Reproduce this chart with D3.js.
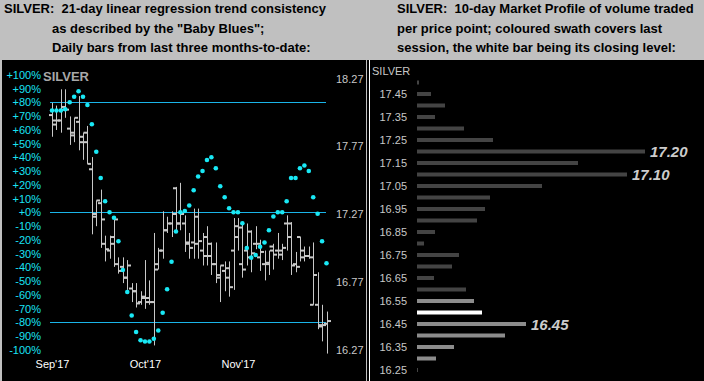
<!DOCTYPE html>
<html><head><meta charset="utf-8">
<script src="https://cdn.jsdelivr.net/npm/d3@7"></script>
<style>body{margin:0;background:#c0c0c0;} svg{display:block;}</style>
</head><body><svg id="c" width="704" height="381"></svg>
<script>
// ---------- data ----------
const leftTitle = ["SILVER:  21-day linear regression trend consistency", "as described by the \"Baby Blues\";", "Daily bars from last three months-to-date:"];
const rightTitle = ["SILVER:  10-day Market Profile of volume traded", "per price point; coloured swath covers last", "session, the white bar being its closing level:"];

const barOpen  = [18.00,17.93,17.96,18.06,17.90,17.85,17.95,17.80,17.80,17.60,17.25,17.35,17.05,17.00,17.10,16.90,16.88,16.80,16.72,16.70,16.62,16.65,16.65,16.62,16.90,17.00,17.15,17.20,17.46,17.20,17.20,17.05,17.06,17.05,17.00,16.96,16.96,16.90,16.80,16.85,16.80,17.00,17.10,16.90,17.00,16.95,17.05,16.95,16.90,16.90,17.00,17.00,17.00,17.20,17.20,16.90,17.10,16.95,16.96,16.60,16.60,16.45,16.46];
const barHigh  = [18.09,18.07,18.19,18.19,17.99,17.98,18.14,17.87,17.92,17.69,17.37,17.45,17.11,17.11,17.23,16.95,16.95,16.93,16.76,16.76,16.70,16.93,16.78,17.13,17.02,17.29,17.25,17.29,17.47,17.50,17.26,17.13,17.31,17.31,17.13,17.18,17.06,17.06,16.89,16.92,16.92,17.24,17.24,17.21,17.20,17.15,17.18,17.08,17.00,17.00,17.05,17.13,17.05,17.26,17.21,16.99,17.10,17.03,17.03,17.06,16.84,16.60,16.55];
const barLow   = [17.84,17.89,17.87,17.98,17.78,17.80,17.74,17.67,17.64,17.12,17.18,17.02,16.92,16.94,16.88,16.83,16.76,16.71,16.62,16.58,16.60,16.57,16.60,16.30,16.86,16.94,17.13,17.10,17.14,17.15,16.99,16.94,16.94,16.94,16.89,16.89,16.82,16.76,16.62,16.70,16.66,16.71,17.00,16.80,16.89,16.84,17.01,16.85,16.78,16.82,16.86,16.94,16.93,17.00,16.82,16.84,16.92,16.92,16.94,16.60,16.42,16.33,16.24];
const barClose = [17.96,17.96,18.04,18.04,17.87,17.98,17.84,17.87,17.64,17.27,17.37,17.23,17.01,17.05,17.23,16.85,16.80,16.89,16.70,16.61,16.66,16.62,16.62,16.86,17.00,17.15,17.20,17.27,17.20,17.27,17.06,17.02,17.25,17.07,17.10,17.05,16.90,16.82,16.89,16.87,16.73,17.18,17.17,16.86,17.14,16.98,17.05,16.99,16.91,17.03,16.97,16.97,17.02,17.10,16.89,16.88,17.00,16.96,16.95,16.82,16.44,16.45,16.48];
const babyBlues = [74,74,74,75,80,84,88,84,78,64,44,25,8,0,-4,-21,-42,-58,-75,-87,-93,-94,-94,-92,-86,-73,-56,-36,-14,0,1,5,16,26,30,38,40,32,19,11,3,0,0,-8,-26,-33,-31,-25,-22,-13,-3,0,0,8,25,25,32,34,30,11,-1,-21,-37];

const pctTicks = [100,90,80,70,60,50,40,30,20,10,0,-10,-20,-30,-40,-50,-60,-70,-80,-90,-100];
const refLevels = [80,0,-80];
const priceTicks = [18.27,17.77,17.27,16.77,16.27];
const monthTickIdx = [0,21,42];
const monthLabels = ["Sep'17","Oct'17","Nov'17"];

const profilePrices = [17.50,17.45,17.40,17.35,17.30,17.25,17.20,17.15,17.10,17.05,17.00,16.95,16.90,16.85,16.80,16.75,16.70,16.65,16.60,16.55,16.50,16.45,16.40,16.35,16.30,16.25];
const profileVolume = [2,14,28,18,47,76,228,161,210,125,73,68,60,18,7,42,35,17,49,57,65,109,88,37,19,1];
const sessionLow = 16.30, sessionHigh = 16.55, sessionClose = 16.50;
const profileTicks = [17.45,17.35,17.25,17.15,17.05,16.95,16.85,16.75,16.65,16.55,16.45,16.35,16.25];
const profileCallouts = [17.20,17.10,16.45];

// ---------- drawing ----------
const svg = d3.select("#c");
const FONT = "'Liberation Sans', Arial, sans-serif";

// header / panels
svg.append("rect").attr("x",0).attr("y",0).attr("width",704).attr("height",381).attr("fill","#c0c0c0");
svg.append("rect").attr("x",2).attr("y",60).attr("width",364).attr("height",321).attr("fill","#000");
svg.append("rect").attr("x",367).attr("y",60).attr("width",337).attr("height",321).attr("fill","#000");
svg.append("line").attr("x1",369.5).attr("x2",369.5).attr("y1",60).attr("y2",381).attr("stroke","#fff").attr("stroke-width",1);

const titleY = [13,32.5,51.5];
leftTitle.forEach((t,i)=>{
  svg.append("text").attr("x", i===0?4:52).attr("y",titleY[i]).text(t)
    .attr("font-family",FONT).attr("font-weight","bold").attr("font-size",13).attr("fill","#000").style("white-space","pre");
});
rightTitle.forEach((t,i)=>{
  svg.append("text").attr("x",397).attr("y",titleY[i]).text(t)
    .attr("font-family",FONT).attr("font-weight","bold").attr("font-size",13).attr("fill","#000").style("white-space","pre");
});

// left chart scales
const n = barClose.length;
const x = d3.scaleLinear().domain([0,n-1]).range([52,326.5]);
const yPct = d3.scaleLinear().domain([-100,100]).range([349.8,74.8]);
const yPrice = d3.scaleLinear().domain([16.27,18.27]).range([349.5,78.5]);

// percent axis (left)
const pctAxis = d3.axisLeft(yPct).tickValues(pctTicks).tickSize(0).tickPadding(0)
  .tickFormat(d => (d>=0?"+":"") + d + "%");
const gp = svg.append("g").attr("transform","translate(41,0)").call(pctAxis);
gp.select(".domain").remove();
gp.selectAll("text").attr("fill","#19e3f5").attr("font-family",FONT).attr("font-size",11);

// price axis (right)
const priceAxis = d3.axisRight(yPrice).tickValues(priceTicks).tickSize(0).tickPadding(0).tickFormat(d3.format(".2f"));
const gr = svg.append("g").attr("transform","translate(336,0)").call(priceAxis);
gr.select(".domain").remove();
gr.selectAll("text").attr("fill","#c8c8c8").attr("font-family",FONT).attr("font-size",11);

// month axis
const monthAxis = d3.axisBottom(x).tickValues(monthTickIdx).tickSize(0).tickPadding(0)
  .tickFormat((d,i)=>monthLabels[i]);
const gm = svg.append("g").attr("transform","translate(0,360.5)").call(monthAxis);
gm.select(".domain").remove();
gm.selectAll("text").attr("fill","#fff").attr("font-family",FONT).attr("font-size",11);

// SILVER label
svg.append("text").attr("x",43).attr("y",81).text("SILVER").attr("font-family",FONT)
  .attr("font-weight","bold").attr("font-size",13).attr("fill","#a8a8a8");

// reference lines
svg.selectAll("line.ref").data(refLevels).join("line").attr("class","ref")
  .attr("x1",50).attr("x2",326).attr("y1",d=>Math.round(yPct(d))+0.5).attr("y2",d=>Math.round(yPct(d))+0.5)
  .attr("stroke","#1ab4e8").attr("stroke-width",1);

// OHLC bars
const bars = svg.append("g");
const idx = d3.range(n);
const barCol = "#c8c8c8";
bars.selectAll("line.hl").data(idx).join("line")
  .attr("x1",i=>Math.round(x(i))+0.5).attr("x2",i=>Math.round(x(i))+0.5)
  .attr("y1",i=>yPrice(barHigh[i])).attr("y2",i=>yPrice(barLow[i]))
  .attr("stroke",barCol).attr("stroke-width",1);
bars.selectAll("line.o").data(idx).join("line")
  .attr("x1",i=>Math.round(x(i))-3).attr("x2",i=>Math.round(x(i))+0.5)
  .attr("y1",i=>yPrice(barOpen[i])).attr("y2",i=>yPrice(barOpen[i]))
  .attr("stroke",barCol).attr("stroke-width",2);
bars.selectAll("line.c").data(idx).join("line")
  .attr("x1",i=>Math.round(x(i))+0.5).attr("x2",i=>Math.round(x(i))+4)
  .attr("y1",i=>yPrice(barClose[i])).attr("y2",i=>yPrice(barClose[i]))
  .attr("stroke",barCol).attr("stroke-width",2);

// baby blues dots
svg.append("g").selectAll("circle").data(idx).join("circle")
  .attr("cx",i=>x(i)).attr("cy",i=>yPct(babyBlues[i])).attr("r",2.3).attr("fill","#19e8f5");

// ---------- right: market profile ----------
const yProf = d3.scaleLinear().domain([16.25,17.45]).range([370,94]);
const xProf = d3.scaleLinear().domain([0,228]).range([417,645]);

const profAxis = d3.axisLeft(yProf).tickValues(profileTicks).tickSize(0).tickPadding(0).tickFormat(d3.format(".2f"));
const gpa = svg.append("g").attr("transform","translate(407,0)").call(profAxis);
gpa.select(".domain").remove();
gpa.selectAll("text").attr("fill","#c8c8c8").attr("font-family",FONT).attr("font-size",11);

svg.append("text").attr("x",372).attr("y",75).text("SILVER").attr("font-family",FONT)
  .attr("font-size",11).attr("fill","#c8c8c8");

const profColor = (p) => Math.abs(p-sessionClose)<1e-6 ? "#ffffff" :
  (p>=sessionLow-1e-6 && p<=sessionHigh+1e-6 ? "#8c8c8c" : "#444444");
svg.append("g").selectAll("rect").data(profilePrices).join("rect")
  .attr("x",xProf(0)).attr("y",p=>yProf(p)-2).attr("height",4)
  .attr("width",(p,i)=>xProf(profileVolume[i])-xProf(0))
  .attr("fill",p=>profColor(p));

svg.append("g").selectAll("text").data(profileCallouts).join("text")
  .attr("x",p=>xProf(profileVolume[profilePrices.findIndex(q=>Math.abs(q-p)<1e-6)])+5)
  .attr("y",p=>yProf(p)+5.5).text(p=>p.toFixed(2))
  .attr("font-family",FONT).attr("font-weight","bold").attr("font-style","italic")
  .attr("font-size",15).attr("fill","#cccccc");
</script></body></html>
